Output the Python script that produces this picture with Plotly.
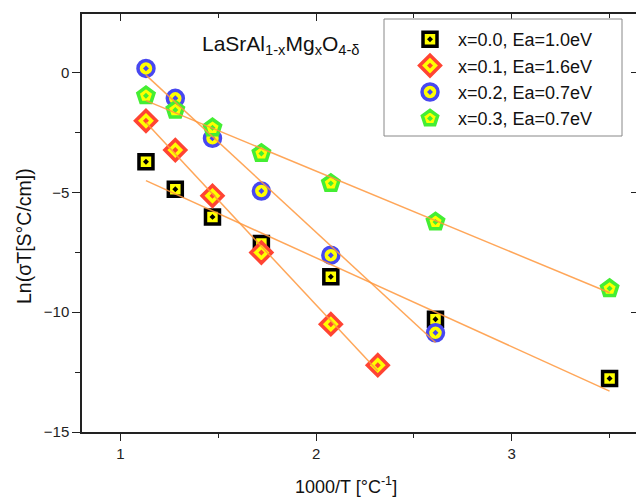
import numpy as np
import plotly.graph_objects as go

# ---- data ----
x_common = [1.13, 1.28, 1.47, 1.72, 2.075, 2.61, 3.50]
x_red = [1.13, 1.28, 1.47, 1.72, 2.075, 2.315]
x_blue = [1.13, 1.28, 1.47, 1.72, 2.075, 2.61]

y_x00 = [-3.72, -4.87, -6.02, -7.13, -8.52, -10.29, -12.77]
y_x01 = [-2.01, -3.23, -5.14, -7.51, -10.50, -12.21]
y_x02 = [0.18, -1.07, -2.74, -4.94, -7.62, -10.86]
y_x03 = [-0.96, -1.56, -2.30, -3.37, -4.62, -6.23, -9.01]

names = ["x=0.0, Ea=1.0eV", "x=0.1, Ea=1.6eV", "x=0.2, Ea=0.7eV", "x=0.3, Ea=0.7eV"]
xs = [x_common, x_red, x_blue, x_common]
ys = [y_x00, y_x01, y_x02, y_x03]

symbols = ["square-dot", "diamond-dot", "circle-dot", "pentagon-dot"]
edge_colors = ["#000000", "#FF4433", "#4848F0", "#44EE33"]
sizes = [14, 16, 16, 17]

FILL = "#FFFF00"
FIT_COLOR = "rgba(255,150,60,0.85)"

fig = go.Figure()

for name, x, y, sym, ec, sz in zip(names, xs, ys, symbols, edge_colors, sizes):
    fig.add_trace(go.Scatter(
        x=x, y=y, mode="markers", name=name,
        marker=dict(symbol=sym, size=sz, color=FILL,
                    line=dict(color=ec, width=3.5)),
    ))

# linear fits drawn on top of markers
for x, y in zip(xs, ys):
    xa = np.array(x)
    slope, icpt = np.polyfit(xa, np.array(y), 1)
    xl = np.array([xa.min(), xa.max()])
    fig.add_trace(go.Scatter(
        x=xl, y=slope * xl + icpt, mode="lines", showlegend=False,
        line=dict(color=FIT_COLOR, width=1.5), hoverinfo="skip",
    ))

XR = [0.803, 3.635]
YR = [-15, 2.45]
axis_col = "#222222"
tickfont = dict(family="Liberation Sans, Arial", size=15, color="#222222")

L, T, W, H = 82, 14, 554, 418


def px(xp):
    return (xp - L) / W


def py(yp):
    return (T + H - yp) / H


fig.update_layout(
    width=636, height=498,
    margin=dict(l=82, r=0, t=14, b=66),
    paper_bgcolor="white", plot_bgcolor="white",
    showlegend=True,
    xaxis=dict(range=XR, tickvals=[1, 2, 3], ticks="outside", ticklen=7,
               tickwidth=1.3, tickcolor=axis_col, showline=True, linecolor=axis_col,
               linewidth=1.5, showgrid=False, zeroline=False, tickfont=tickfont,
               minor=dict(ticks="outside", dtick=0.5, tick0=0, ticklen=4,
                          tickwidth=1.3, tickcolor=axis_col, showgrid=False)),
    yaxis=dict(range=YR, tickvals=[0, -5, -10, -15], ticks="outside", ticklen=8,
               tickwidth=1.3, tickcolor=axis_col, showline=True, linecolor=axis_col,
               linewidth=1.5, showgrid=False, zeroline=False, tickfont=tickfont,
               minor=dict(ticks="outside", dtick=2.5, tick0=0, ticklen=5,
                          tickwidth=1.3, tickcolor=axis_col, showgrid=False)),
    xaxis2=dict(range=XR, overlaying="x", side="top", anchor="y",
                tickvals=[1, 2, 3], ticks="inside", ticklen=7, tickwidth=1.3,
                tickcolor=axis_col, showline=True, linecolor=axis_col, linewidth=1.5,
                showticklabels=False, showgrid=False, zeroline=False,
                minor=dict(ticks="inside", dtick=0.5, tick0=0, ticklen=4,
                           tickwidth=1.3, tickcolor=axis_col, showgrid=False)),
    yaxis2=dict(range=YR, overlaying="y", side="right", anchor="x",
                tickvals=[0, -5, -10, -15], ticks="inside", ticklen=5, tickwidth=1.3,
                tickcolor=axis_col, showline=False,
                showticklabels=False, showgrid=False, zeroline=False),
    legend=dict(x=px(402), y=py(79), xanchor="left", yanchor="middle",
                borderwidth=0, bgcolor="rgba(0,0,0,0)",
                font=dict(family="Liberation Sans, Arial", size=18, color="#111111"),
                tracegroupgap=0, itemsizing="trace", itemwidth=46),
    font=dict(family="Liberation Sans, Arial"),
)

# legend frame
fig.add_shape(type="rect", xref="paper", yref="paper",
              x0=px(384), x1=px(622), y0=py(136), y1=py(19),
              line=dict(color="#888888", width=1), fillcolor="white", layer="above")

# invisible trace to activate the mirror axes
fig.add_trace(go.Scatter(x=[XR[0]], y=[YR[0]], xaxis="x2", yaxis="y2", mode="markers",
                         marker=dict(opacity=0), showlegend=False, hoverinfo="skip"))

fig.add_annotation(text="LaSrAl<sub>1-x</sub>Mg<sub>x</sub>O<sub>4-δ</sub>",
                   xref="paper", yref="paper", x=px(281), y=py(45),
                   showarrow=False, font=dict(size=21, color="#111111"),
                   xanchor="center", yanchor="middle")

fig.add_annotation(text="1000/T [°C<sup>-1</sup>]", xref="paper", yref="paper",
                   x=px(346), y=py(485), borderpad=0,
                   showarrow=False, font=dict(size=18, color="#111111"),
                   xanchor="center", yanchor="middle")

fig.add_annotation(text="Ln(σT[S°C/cm])", xref="paper", yref="paper",
                   x=px(24), y=py(236), textangle=-90,
                   showarrow=False, font=dict(size=19.5, color="#111111"),
                   xanchor="center", yanchor="middle")

fig.write_html("out.html")
